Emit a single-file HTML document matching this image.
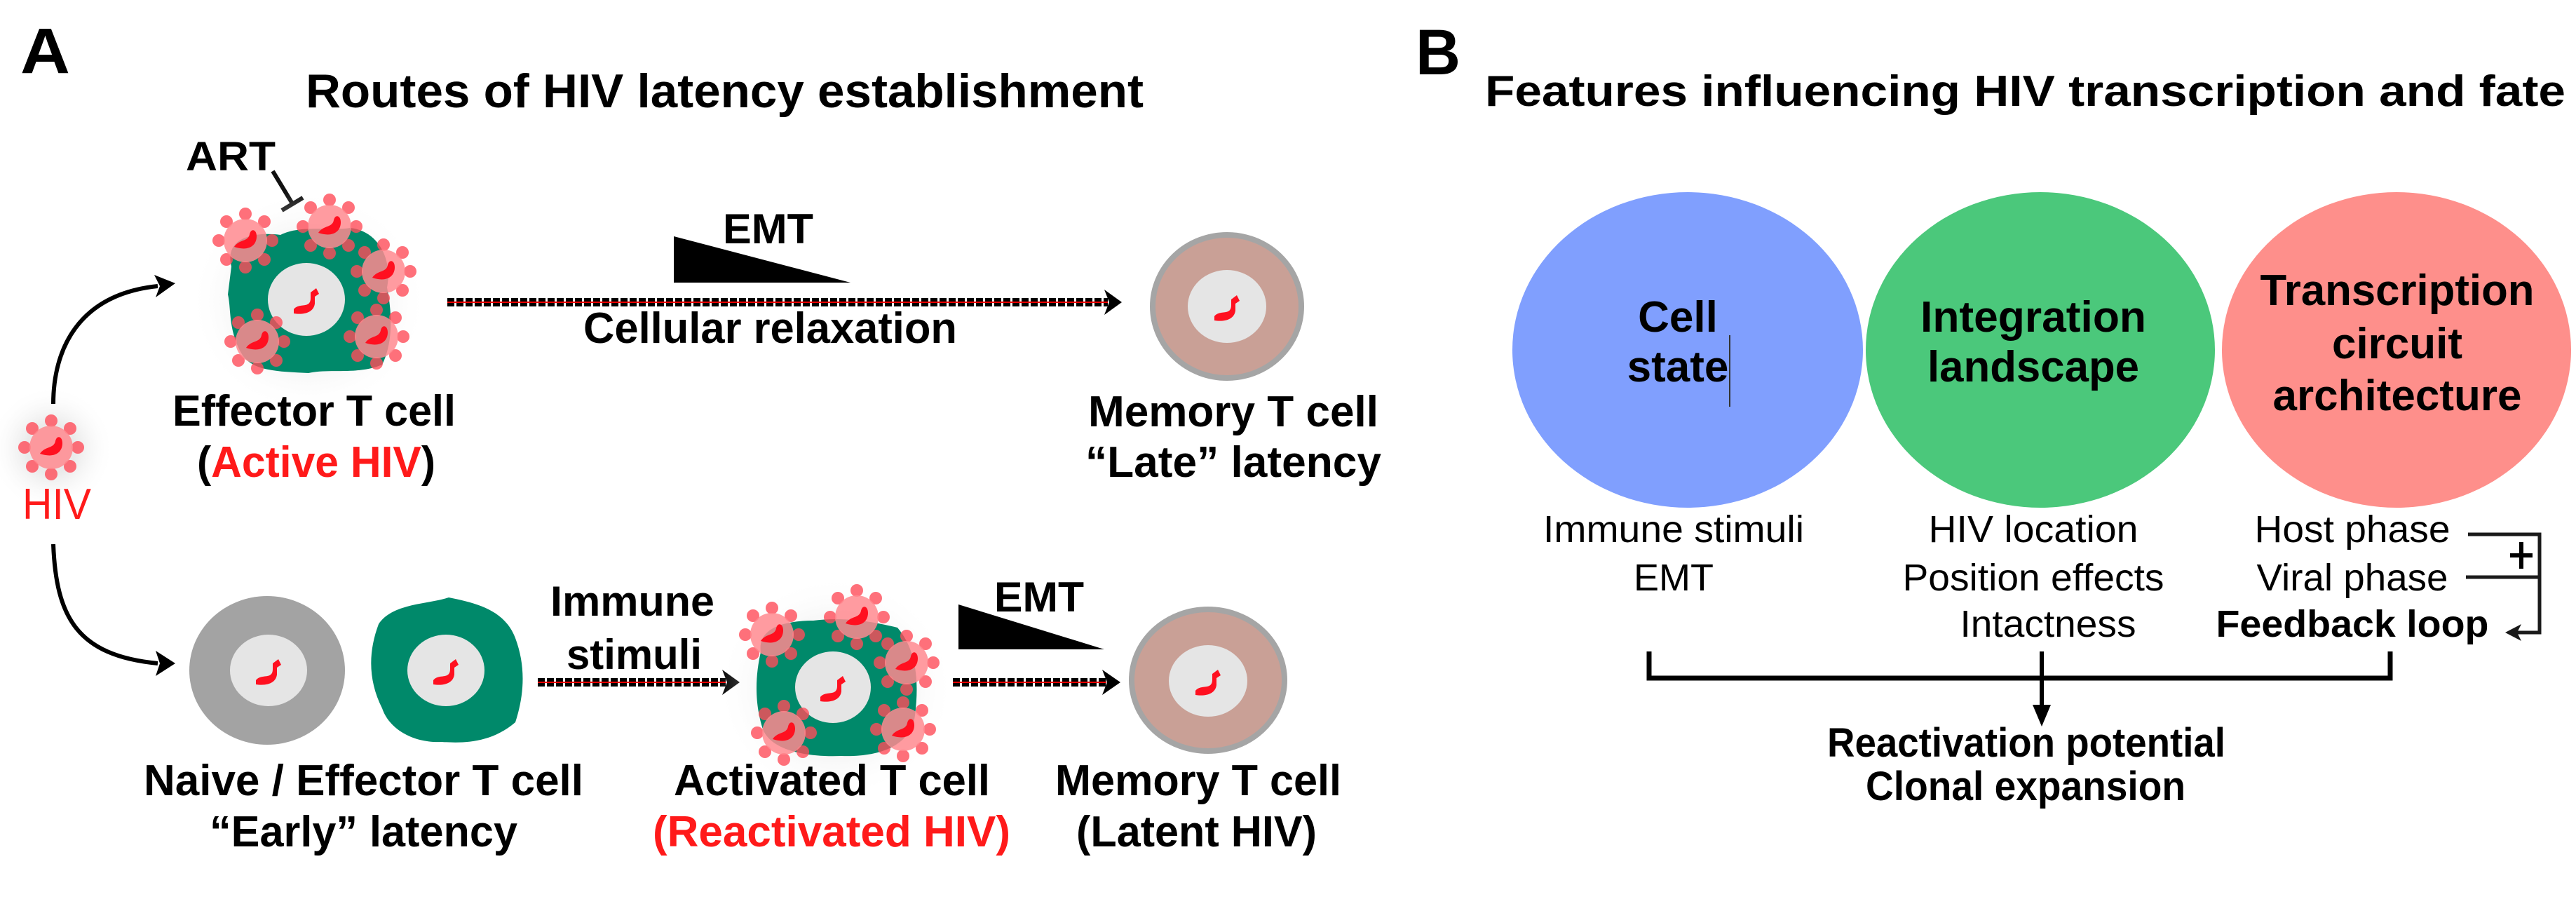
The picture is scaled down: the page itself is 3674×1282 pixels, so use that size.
<!DOCTYPE html>
<html><head><meta charset="utf-8"><style>
html,body{margin:0;padding:0;background:#fff;}
svg{display:block;}
text{font-family:"Liberation Sans",Arial,sans-serif;}
.b{font-weight:bold;}
</style></head><body>
<svg width="3674" height="1282" viewBox="0 0 3674 1282" xmlns="http://www.w3.org/2000/svg">
<defs>
<radialGradient id="halo"><stop offset="0.4" stop-color="#ddd" stop-opacity="0.6"/><stop offset="1" stop-color="#fff" stop-opacity="0"/></radialGradient>
<g id="vir">
<g fill="#ff4d5a" opacity="0.8">
<circle cx="0" cy="-38" r="9"/><circle cx="27" cy="-27" r="9"/><circle cx="38" cy="0" r="9"/><circle cx="27" cy="27" r="9"/>
<circle cx="0" cy="38" r="9"/><circle cx="-27" cy="27" r="9"/><circle cx="-38" cy="0" r="9"/><circle cx="-27" cy="-27" r="9"/>
</g>
<circle r="31" fill="#ff8a8f" opacity="0.85"/>
<path d="M-16,9 C-9,-2 4,2 6,-9 C8,-18 16,-16 16,-6 C16,7 5,16 -16,9Z" fill="#ff1020"/>
</g>
<g id="gen"><path d="M-18,14 C-10,4 6,14 6,-2 L6,-10 L14,-16 L18,-8 L12,-4 L12,6 C10,20 -6,22 -18,20Z" fill="#ff1020"/></g>
</defs>

<!-- Panel A -->
<text x="29" y="104" font-size="92" class="b" textLength="71" lengthAdjust="spacingAndGlyphs">A</text>
<text x="436" y="153" font-size="68" class="b" textLength="1195" lengthAdjust="spacingAndGlyphs">Routes of HIV latency establishment</text>

<text x="265" y="243" font-size="58" class="b" textLength="128" lengthAdjust="spacingAndGlyphs">ART</text>
<line x1="389" y1="244" x2="418" y2="292" stroke="#111" stroke-width="6"/>
<line x1="402" y1="300" x2="432" y2="282" stroke="#111" stroke-width="6"/>

<!-- top effector cell -->
<ellipse cx="440" cy="430" rx="170" ry="160" fill="url(#halo)"/>
<path d="M330,380 C320,340 360,330 400,335 C430,320 470,330 500,325 C540,330 560,370 552,410 C560,450 560,490 545,520 C510,535 470,525 440,532 C400,530 360,530 345,505 C325,470 330,440 325,420Z" fill="#00896a"/>
<ellipse cx="437" cy="427" rx="55" ry="52" fill="#e5e5e5"/>
<use href="#gen" x="437" y="427"/>
<use href="#vir" x="350" y="343"/>
<use href="#vir" x="470" y="323"/>
<use href="#vir" x="547" y="387"/>
<use href="#vir" x="537" y="480"/>
<use href="#vir" x="367" y="487"/>

<!-- top dotted arrow -->
<line x1="638" y1="431" x2="1580" y2="431" stroke="#000" stroke-width="12" stroke-dasharray="10,3"/>
<line x1="638" y1="431" x2="1580" y2="431" stroke="#e00" stroke-width="2"/>
<polygon points="1575,413 1600,431 1575,449 1582,431" fill="#000"/>
<polygon points="961,337 961,403 1213,403" fill="#000"/>
<text x="1031" y="347" font-size="60" class="b" textLength="129" lengthAdjust="spacingAndGlyphs">EMT</text>
<text x="832" y="489" font-size="62" class="b" textLength="533" lengthAdjust="spacingAndGlyphs">Cellular relaxation</text>

<!-- top memory cell -->
<ellipse cx="1750" cy="437" rx="106" ry="102" fill="#c9a096" stroke="#a5a5a5" stroke-width="8"/>
<ellipse cx="1750" cy="437" rx="56" ry="52" fill="#e5e5e5"/>
<use href="#gen" x="1750" y="437"/>

<text x="246" y="607" font-size="62" class="b" textLength="404" lengthAdjust="spacingAndGlyphs">Effector T cell</text>
<text x="281" y="680" font-size="62" class="b" textLength="340" lengthAdjust="spacingAndGlyphs">(<tspan fill="#ff1a1a">Active HIV</tspan>)</text>
<text x="1552" y="608" font-size="62" class="b" textLength="414" lengthAdjust="spacingAndGlyphs">Memory T cell</text>
<text x="1548" y="680" font-size="62" class="b" textLength="422" lengthAdjust="spacingAndGlyphs">“Late” latency</text>

<!-- HIV -->
<circle cx="73" cy="640" r="90" fill="url(#halo)"/>
<use href="#vir" x="73" y="638"/>
<text x="32" y="740" font-size="62" fill="#ff1a1a" textLength="98" lengthAdjust="spacingAndGlyphs">HIV</text>
<path d="M76,576 C76,500 110,420 225,408" fill="none" stroke="#000" stroke-width="6"/>
<polygon points="220,392 250,404 222,424 228,408" fill="#000"/>
<path d="M76,776 C80,880 110,935 225,946" fill="none" stroke="#000" stroke-width="6"/>
<polygon points="222,928 250,946 222,964 228,946" fill="#000"/>

<!-- bottom row -->
<ellipse cx="381" cy="956" rx="111" ry="106" fill="#a3a3a3"/>
<ellipse cx="383" cy="956" rx="55" ry="51" fill="#e5e5e5"/>
<use href="#gen" x="383" y="956"/>
<path d="M540,890 C560,860 610,862 640,852 C680,860 720,870 735,910 C750,950 748,990 735,1030 C700,1060 660,1060 630,1058 C590,1060 555,1040 545,1010 C525,970 525,930 540,890Z" fill="#00896a"/>
<ellipse cx="636" cy="956" rx="55" ry="51" fill="#e5e5e5"/>
<use href="#gen" x="636" y="956"/>

<line x1="767" y1="973" x2="1035" y2="973" stroke="#000" stroke-width="12" stroke-dasharray="10,3"/>
<line x1="767" y1="973" x2="1035" y2="973" stroke="#e00" stroke-width="2"/>
<polygon points="1030,955 1055,973 1030,991 1037,973" fill="#000"/>
<text x="785" y="878" font-size="60" class="b" textLength="234" lengthAdjust="spacingAndGlyphs">Immune</text>
<text x="808" y="954" font-size="60" class="b" textLength="193" lengthAdjust="spacingAndGlyphs">stimuli</text>

<ellipse cx="1192" cy="981" rx="170" ry="160" fill="url(#halo)"/>
<path d="M1085,930 C1080,895 1120,885 1160,885 C1200,880 1240,885 1280,895 C1310,930 1310,980 1305,1020 C1300,1060 1260,1080 1200,1078 C1150,1080 1100,1070 1088,1040 C1075,1000 1078,960 1085,930Z" fill="#00896a"/>
<ellipse cx="1188" cy="980" rx="54" ry="51" fill="#e5e5e5"/>
<use href="#gen" x="1188" y="980"/>
<use href="#vir" x="1101" y="905"/>
<use href="#vir" x="1222" y="880"/>
<use href="#vir" x="1293" y="945"/>
<use href="#vir" x="1288" y="1040"/>
<use href="#vir" x="1118" y="1045"/>

<polygon points="1367,862 1367,926 1575,926" fill="#000"/>
<text x="1418" y="872" font-size="60" class="b" textLength="128" lengthAdjust="spacingAndGlyphs">EMT</text>
<line x1="1359" y1="973" x2="1578" y2="973" stroke="#000" stroke-width="12" stroke-dasharray="10,3"/>
<line x1="1359" y1="973" x2="1578" y2="973" stroke="#e00" stroke-width="2"/>
<polygon points="1572,955 1598,973 1572,991 1579,973" fill="#000"/>

<ellipse cx="1723" cy="970" rx="109" ry="101" fill="#c9a096" stroke="#a5a5a5" stroke-width="8"/>
<ellipse cx="1723" cy="971" rx="56" ry="51" fill="#e5e5e5"/>
<use href="#gen" x="1723" y="971"/>

<text x="205" y="1134" font-size="62" class="b" textLength="627" lengthAdjust="spacingAndGlyphs">Naive / Effector T cell</text>
<text x="299" y="1207" font-size="62" class="b" textLength="439" lengthAdjust="spacingAndGlyphs">“Early” latency</text>
<text x="961" y="1134" font-size="62" class="b" textLength="451" lengthAdjust="spacingAndGlyphs">Activated T cell</text>
<text x="931" y="1207" font-size="62" class="b" fill="#ff1a1a" textLength="510" lengthAdjust="spacingAndGlyphs">(Reactivated HIV)</text>
<text x="1505" y="1134" font-size="62" class="b" textLength="408" lengthAdjust="spacingAndGlyphs">Memory T cell</text>
<text x="1535" y="1207" font-size="62" class="b" textLength="343" lengthAdjust="spacingAndGlyphs">(Latent HIV)</text>

<!-- Panel B -->
<text x="2019" y="106" font-size="92" class="b" textLength="64" lengthAdjust="spacingAndGlyphs">B</text>
<text x="2118" y="151" font-size="62" class="b" textLength="1541" lengthAdjust="spacingAndGlyphs">Features influencing HIV transcription and fate</text>

<ellipse cx="2407" cy="499" rx="250" ry="225" fill="#809ffe"/>
<ellipse cx="2910" cy="499" rx="249" ry="225" fill="#4bc87b"/>
<ellipse cx="3418" cy="499" rx="249" ry="225" fill="#fe8f8b"/>

<text x="2393" y="473" font-size="62" class="b" text-anchor="middle">Cell</text>
<text x="2393" y="544" font-size="62" class="b" text-anchor="middle">state</text>
<line x1="2467" y1="478" x2="2467" y2="580" stroke="#333" stroke-width="2"/>
<text x="2900" y="473" font-size="62" class="b" text-anchor="middle" textLength="322" lengthAdjust="spacingAndGlyphs">Integration</text>
<text x="2900" y="544" font-size="62" class="b" text-anchor="middle" textLength="302" lengthAdjust="spacingAndGlyphs">landscape</text>
<text x="3419" y="435" font-size="62" class="b" text-anchor="middle" textLength="391" lengthAdjust="spacingAndGlyphs">Transcription</text>
<text x="3419" y="511" font-size="62" class="b" text-anchor="middle">circuit</text>
<text x="3419" y="585" font-size="62" class="b" text-anchor="middle" textLength="355" lengthAdjust="spacingAndGlyphs">architecture</text>

<text x="2387" y="773" font-size="54" text-anchor="middle" textLength="372" lengthAdjust="spacingAndGlyphs">Immune stimuli</text>
<text x="2387" y="842" font-size="54" text-anchor="middle">EMT</text>
<text x="2900" y="773" font-size="54" text-anchor="middle" textLength="299" lengthAdjust="spacingAndGlyphs">HIV location</text>
<text x="2900" y="842" font-size="54" text-anchor="middle" textLength="373" lengthAdjust="spacingAndGlyphs">Position effects</text>
<text x="2921" y="908" font-size="54" text-anchor="middle" textLength="251" lengthAdjust="spacingAndGlyphs">Intactness</text>
<text x="3355" y="773" font-size="54" text-anchor="middle" textLength="279" lengthAdjust="spacingAndGlyphs">Host phase</text>
<text x="3355" y="842" font-size="54" text-anchor="middle" textLength="273" lengthAdjust="spacingAndGlyphs">Viral phase</text>
<text x="3355" y="908" font-size="54" class="b" text-anchor="middle" textLength="389" lengthAdjust="spacingAndGlyphs">Feedback loop</text>

<g stroke="#1a1a1a" stroke-width="5" fill="none">
<polyline points="3520,762 3622,762 3622,902 3578,902"/>
<line x1="3517" y1="823" x2="3622" y2="823"/>
</g>
<polygon points="3573,902 3596,890 3590,902 3596,914" fill="#1a1a1a"/>
<g stroke="#000" stroke-width="6"><line x1="3580" y1="792" x2="3612" y2="792"/><line x1="3596" y1="773" x2="3596" y2="811"/></g>

<polyline points="2352,929 2352,967 3409,967 3409,929" fill="none" stroke="#000" stroke-width="7"/>
<line x1="2912" y1="929" x2="2912" y2="1015" stroke="#000" stroke-width="6"/>
<polygon points="2899,1005 2912,1036 2925,1005" fill="#000"/>
<text x="2606" y="1079" font-size="58" class="b" textLength="568" lengthAdjust="spacingAndGlyphs">Reactivation potential</text>
<text x="2661" y="1141" font-size="58" class="b" textLength="456" lengthAdjust="spacingAndGlyphs">Clonal expansion</text>
</svg>
</body></html>
